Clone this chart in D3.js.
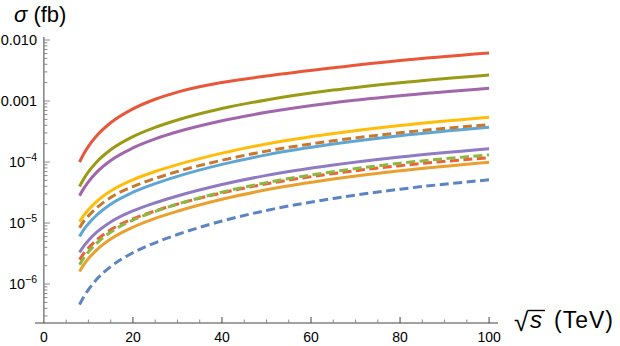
<!doctype html>
<html>
<head>
<style>
  body { margin: 0; background: #fff; }
  text { font-family: "Liberation Sans", Arial, sans-serif; }
</style>
<script src="https://d3js.org/d3.v7.min.js"></script>
</head>
<body>
<svg width="620" height="346"></svg>
<script>
  // sqrt(s) in TeV
  var sqrtS = [8, 9, 10, 12, 15, 20, 25, 30, 40, 50, 65, 80, 100];

  // cross sections in fb
  var redSolid    = [1.00e-4, 1.38e-4, 1.81e-4, 2.77e-4, 4.41e-4, 7.45e-4, 1.07e-3, 1.40e-3, 2.01e-3, 2.57e-3, 3.51e-3, 4.63e-3, 6.15e-3];
  var oliveSolid  = [3.97e-5, 5.38e-5, 6.88e-5, 1.03e-4, 1.59e-4, 2.61e-4, 3.70e-4, 4.89e-4, 7.54e-4, 1.04e-3, 1.51e-3, 2.00e-3, 2.68e-3];
  var purpleSolid = [2.80e-5, 3.74e-5, 4.74e-5, 6.95e-5, 1.06e-4, 1.70e-4, 2.39e-4, 3.13e-4, 4.75e-4, 6.52e-4, 9.36e-4, 1.22e-3, 1.62e-3];
  var yellowSolid = [1.05e-5, 1.35e-5, 1.65e-5, 2.31e-5, 3.34e-5, 5.11e-5, 7.00e-5, 9.06e-5, 1.40e-4, 1.98e-4, 2.94e-4, 3.98e-4, 5.43e-4];
  var brownDash   = [8.38e-6, 1.08e-5, 1.31e-5, 1.81e-5, 2.62e-5, 3.97e-5, 5.39e-5, 7.00e-5, 1.07e-4, 1.51e-4, 2.23e-4, 3.02e-4, 4.11e-4];
  var blueSolid   = [6.04e-6, 7.88e-6, 9.73e-6, 1.38e-5, 2.04e-5, 3.20e-5, 4.43e-5, 5.82e-5, 9.15e-5, 1.31e-4, 1.97e-4, 2.70e-4, 3.72e-4];
  var lilacSolid  = [3.30e-6, 4.24e-6, 5.18e-6, 7.20e-6, 1.04e-5, 1.58e-5, 2.15e-5, 2.78e-5, 4.28e-5, 6.04e-5, 8.93e-5, 1.21e-4, 1.65e-4];
  var redDash     = [2.51e-6, 3.20e-6, 3.90e-6, 5.39e-6, 7.75e-6, 1.17e-5, 1.58e-5, 2.04e-5, 3.12e-5, 4.39e-5, 6.47e-5, 8.72e-5, 1.18e-4];
  var greenDash   = [2.07e-6, 2.71e-6, 3.37e-6, 4.79e-6, 7.09e-6, 1.12e-5, 1.55e-5, 2.04e-5, 3.21e-5, 4.60e-5, 6.94e-5, 9.55e-5, 1.31e-4];
  var orangeSolid = [1.61e-6, 2.11e-6, 2.61e-6, 3.70e-6, 5.46e-6, 8.53e-6, 1.19e-5, 1.56e-5, 2.45e-5, 3.50e-5, 5.26e-5, 7.20e-5, 9.93e-5];
  var blueDash    = [4.60e-7, 6.30e-7, 8.10e-7, 1.23e-6, 1.93e-6, 3.26e-6, 4.75e-6, 6.48e-6, 1.08e-5, 1.61e-5, 2.53e-5, 3.59e-5, 5.12e-5];

  var xTicks = [0, 20, 40, 60, 80, 100];
  var yMajor = [1e-2, 1e-3, 1e-4, 1e-5, 1e-6];

  var series = [
    { v: redSolid,    color: "#e9573b", dash: null },
    { v: oliveSolid,  color: "#9b9a14", dash: null },
    { v: purpleSolid, color: "#a266aa", dash: null },
    { v: yellowSolid, color: "#ffbd0a", dash: null },
    { v: blueSolid,   color: "#5ea6d4", dash: null },
    { v: brownDash,   color: "#c9792c", dash: "9,4.5" },
    { v: lilacSolid,  color: "#8f7bc2", dash: null },
    { v: orangeSolid, color: "#e8a02f", dash: null },
    { v: redDash,     color: "#ee6036", dash: "9,4.5" },
    { v: greenDash,   color: "#8db741", dash: "9,4.5" },
    { v: blueDash,    color: "#5b84c3", dash: "9,4.5" }
  ];

  var svg = d3.select("svg");

  var x = d3.scaleLinear().domain([-2, 102]).range([35, 498]);
  var y = d3.scaleLog().domain([2.3e-7, 0.0112]).range([323, 37]);

  var axisColor = "#444", tickColor = "#888";

  // axes lines
  svg.append("line").attr("x1", x.range()[0]).attr("x2", x.range()[1])
    .attr("y1", y.range()[0]).attr("y2", y.range()[0])
    .attr("stroke", axisColor).attr("stroke-width", 1);
  svg.append("line").attr("x1", x(0)).attr("x2", x(0))
    .attr("y1", y.range()[0]).attr("y2", y.range()[1])
    .attr("stroke", axisColor).attr("stroke-width", 1);

  // x ticks
  var xMinor = d3.range(5, 101, 5);
  svg.append("g").selectAll("line").data(xMinor).enter().append("line")
    .attr("x1", function (d) { return x(d); }).attr("x2", function (d) { return x(d); })
    .attr("y1", y.range()[0])
    .attr("y2", function (d) { return y.range()[0] - (d % 20 === 0 ? 6 : 3.5); })
    .attr("stroke", function (d) { return d % 20 === 0 ? axisColor : tickColor; });
  svg.append("g").selectAll("text").data(xTicks).enter().append("text")
    .attr("x", function (d) { return x(d); })
    .attr("y", 341.5)
    .attr("text-anchor", "middle")
    .attr("font-size", 14)
    .text(function (d) { return d; });

  // y ticks
  var yAll = y.ticks().filter(function (d) { return d >= y.domain()[0] && d <= 0.0101; });
  svg.append("g").selectAll("line").data(yAll).enter().append("line")
    .attr("x1", x(0))
    .attr("x2", function (d) {
      var major = yMajor.some(function (m) { return Math.abs(m - d) / m < 1e-6; });
      return x(0) + (major ? 6 : 3.5);
    })
    .attr("y1", function (d) { return y(d); }).attr("y2", function (d) { return y(d); })
    .attr("stroke", tickColor);

  var yl = svg.append("g").selectAll("text").data(yMajor).enter().append("text")
    .attr("x", 37)
    .attr("y", function (d) { return y(d); })
    .attr("dy", "0.36em")
    .attr("text-anchor", "end")
    .attr("font-size", 14.5);
  yl.each(function (d) {
    var t = d3.select(this);
    if (d >= 1e-3) {
      t.text(d === 1e-2 ? "0.010" : "0.001");
    } else {
      var e = Math.round(Math.log10(d));
      t.append("tspan").text("10");
      t.append("tspan").attr("dy", -6).attr("font-size", 10.5).text("\u2212" + Math.abs(e));
    }
  });

  // curves
  var line = d3.line()
    .x(function (d, i) { return x(sqrtS[i]); })
    .y(function (d) { return y(d); })
    .curve(d3.curveMonotoneX);

  svg.append("g").selectAll("path").data(series).enter().append("path")
    .attr("d", function (s) { return line(s.v); })
    .attr("fill", "none")
    .attr("stroke", function (s) { return s.color; })
    .attr("stroke-width", 3)
    .attr("stroke-dasharray", function (s) { return s.dash; });

  // axis labels
  var yLab = svg.append("text").attr("x", 14).attr("y", 22).attr("font-size", 22);
  yLab.append("tspan").attr("font-style", "italic").text("\u03c3");
  yLab.append("tspan").text(" (fb)");

  var rad = svg.append("text").attr("x", 514).attr("y", 331).attr("font-size", 26)
    .attr("font-family", "DejaVu Sans").text("\u221a");
  var rb = rad.node().getBBox();
  var sx = rb.x + rb.width;
  var sTxt = svg.append("text").attr("x", sx + 1).attr("y", 328).attr("font-size", 24)
    .attr("font-style", "italic").text("s");
  var sb = sTxt.node().getBBox();
  svg.append("line").attr("x1", sx - 1.5).attr("x2", sb.x + sb.width + 3)
    .attr("y1", rb.y + 3.5).attr("y2", rb.y + 3.5)
    .attr("stroke", "#000").attr("stroke-width", 1.4);
  svg.append("text").attr("x", sb.x + sb.width + 12).attr("y", 328).attr("font-size", 23)
    .attr("letter-spacing", 1)
    .text("(TeV)");
</script>
</body>
</html>
